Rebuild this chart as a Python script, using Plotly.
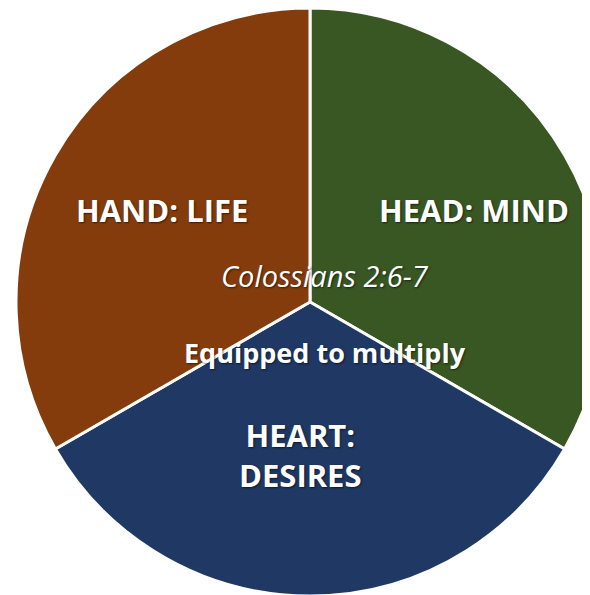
import plotly.graph_objects as go

# Data
labels = ["HEAD: MIND", "HEART:<br>DESIRES", "HAND: LIFE"]
values = [1, 1, 1]
colors = ["#385723", "#1F3864", "#843C0C"]
center_title = "Colossians 2:6-7"
center_subtitle = "Equipped to multiply"

W, H = 600, 595
OFF = 8  # page body margin
cx, cy, r = 302, 294, 294  # pie centre/radius in figure pixels


def px(x, y):
    return (x - OFF) / W, 1 - (y - OFF) / H


fig = go.Figure(go.Pie(
    labels=labels,
    values=values,
    marker=dict(colors=colors, line=dict(color="white", width=3)),
    sort=False,
    direction="clockwise",
    rotation=0,
    textinfo="none",
    hoverinfo="label",
    showlegend=False,
    domain=dict(x=[(cx - r) / W, (cx + r) / W], y=[1 - (cy + r) / H, 1 - (cy - r) / H]),
))

FONT = "Open Sans"
shadow = "1px 1px 2px rgba(0,0,0,0.55)"
label_pos = [(474, 210), (300, 455), (162, 210)]
anns = []
for lab, (sx, sy) in zip(labels, label_pos):
    x, y = px(sx, sy)
    anns.append(dict(x=x, y=y, xref="paper", yref="paper", text="<b>" + lab + "</b>",
                     showarrow=False, xanchor="center", yanchor="middle",
                     font=dict(family=FONT, size=31, color="white", shadow=shadow)))
x, y = px(325, 275)
anns.append(dict(x=x, y=y, xref="paper", yref="paper", text="<i>" + center_title + "</i>",
                 showarrow=False, xanchor="center", yanchor="middle",
                 font=dict(family=FONT, size=29, color="white", shadow=shadow)))
x, y = px(325, 352)
anns.append(dict(x=x, y=y, xref="paper", yref="paper", text="<b>" + center_subtitle + "</b>",
                 showarrow=False, xanchor="center", yanchor="middle",
                 font=dict(family=FONT, size=27, color="white", shadow=shadow)))

fig.update_layout(
    width=W, height=H,
    margin=dict(l=0, r=0, t=0, b=0),
    paper_bgcolor="white",
    plot_bgcolor="white",
    annotations=anns,
)

fig.write_html("out.html")
